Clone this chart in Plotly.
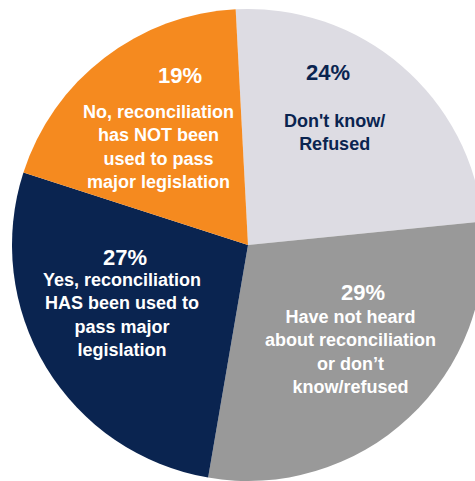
import plotly.graph_objects as go

categories = ["Don't know/<br>Refused",
              "Have not heard<br>about reconciliation<br>or don’t<br>know/refused",
              "Yes, reconciliation<br>HAS been used to<br>pass major<br>legislation",
              "No, reconciliation<br>has NOT been<br>used to pass<br>major legislation"]
values = [24, 29, 27, 19]
pct_labels = ["24%", "29%", "27%", "19%"]
colors = ["#DDDCE3", "#999999", "#0A2450", "#F58A1F"]
text_colors = ["#0A2450", "#FFFFFF", "#FFFFFF", "#FFFFFF"]

W, H = 490, 481
# text block centres in pixels (percentage, label)
pct_pos = [(328, 73), (363, 292), (125, 257), (180, 75)]
lab_pos = [(334, 132), (350, 352), (122, 315), (158, 147)]

fig = go.Figure(go.Pie(
    labels=[c.replace("<br>", " ") for c in categories],
    values=values,
    sort=False,
    direction="clockwise",
    rotation=-3,
    marker=dict(colors=colors, line=dict(width=0)),
    textinfo="none",
    hoverinfo="label+value",
    domain=dict(x=[12 / W, 484 / W], y=[0, 472 / H]),
    showlegend=False,
))

font_family = "Liberation Sans, Arial, sans-serif"
annotations = []
for i in range(len(values)):
    px, py = pct_pos[i]
    annotations.append(dict(
        x=px / W, y=1 - py / H, xref="paper", yref="paper",
        text="<b>" + pct_labels[i] + "</b>", showarrow=False,
        font=dict(family=font_family, size=22, color=text_colors[i]),
        xanchor="center", yanchor="middle"))
    lx, ly = lab_pos[i]
    annotations.append(dict(
        x=lx / W, y=1 - ly / H, xref="paper", yref="paper",
        text="<b>" + categories[i] + "</b>", showarrow=False,
        font=dict(family=font_family, size=18, color=text_colors[i]),
        xanchor="center", yanchor="middle", align="center"))

fig.update_layout(
    width=W, height=H,
    margin=dict(l=0, r=0, t=0, b=0),
    paper_bgcolor="white", plot_bgcolor="white",
    annotations=annotations,
)

fig.write_html("out.html", config={"displayModeBar": False},
               post_script="document.body.style.margin='0';document.body.style.overflow='hidden';")
